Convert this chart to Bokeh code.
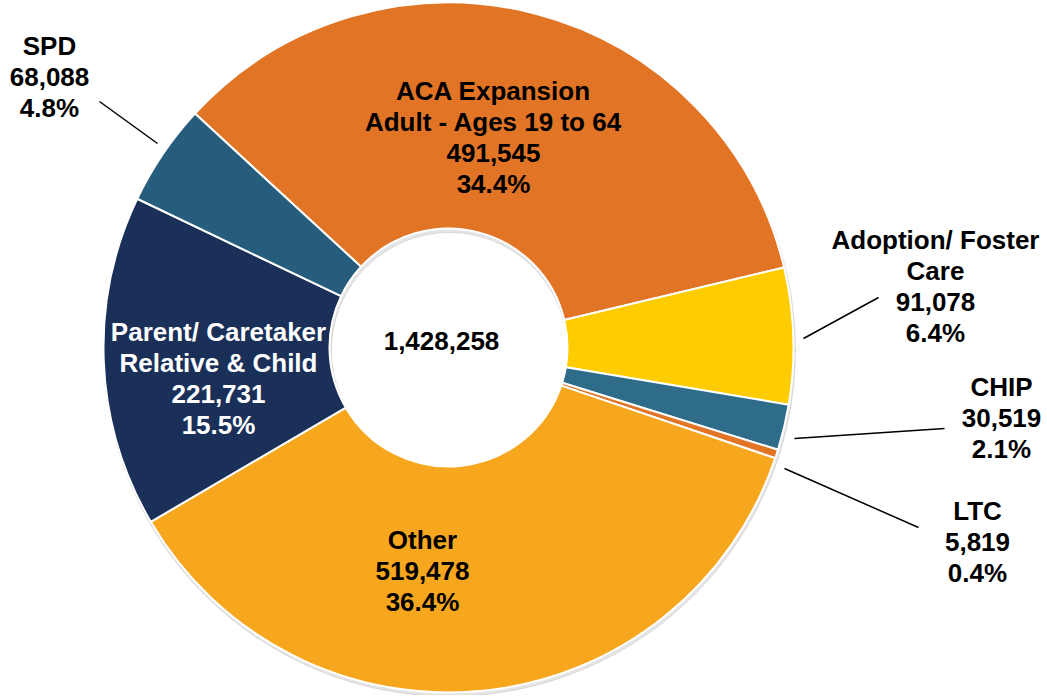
import math
from bokeh.plotting import figure
from bokeh.models import Range1d, ColumnDataSource
from bokeh.embed import file_html
from bokeh.resources import INLINE
from bokeh.core.properties import value

# ---------------- data ----------------
categories = [
    "ACA Expansion\nAdult - Ages 19 to 64",
    "Adoption/ Foster\nCare",
    "CHIP",
    "LTC",
    "Other",
    "Parent/ Caretaker\nRelative & Child",
    "SPD",
]
counts = [491545, 91078, 30519, 5819, 519478, 221731, 68088]
colors = ["#E27426", "#FFCC00", "#2E6C8A", "#E27426", "#F7A71E", "#1A3059", "#265C7C"]
label_colors = ["#000000", "#000000", "#000000", "#000000", "#000000", "#FFFFFF", "#000000"]
total = sum(counts)

# ---------------- layout (pixel coords of the page) ----------------
W, H = 1045, 695
PAGE_H = 697
cx, cy = 448, PAGE_H - 347
r_out, r_in = 345, 119
start_deg = 137.3

# label block centres (page pixels)
label_pos = [(493, 137), (935, 286), (1001, 417), (977, 541), (422, 570), (218, 378), (49, 76)]
# leader lines (outer end, inner end) for outside labels, page pixels
leaders = [None, ((878, 297), (803, 338)), ((944, 428), (794, 438)),
           ((918, 527), (784, 468)), None, None, ((99, 101), (157, 143))]

FONT = "Liberation Sans"
FS = 26
LINE_H = 31

p = figure(width=W, height=H, output_backend="svg", toolbar_location=None,
           x_range=Range1d(0, W), y_range=Range1d(PAGE_H - H, PAGE_H),
           min_border=0, outline_line_color=None, background_fill_color="white",
           border_fill_color="white")
p.axis.visible = False
p.grid.visible = False

# shadow
p.annular_wedge(x=cx + 1, y=cy - 3, inner_radius=r_in - 1, outer_radius=r_out + 1,
                start_angle=0, end_angle=2 * math.pi, color="#000000", alpha=0.10)

# wedges
starts, ends = [], []
a = math.radians(start_deg)
for c in counts:
    span = c / total * 2 * math.pi
    ends.append(a)
    starts.append(a - span)
    a -= span
src = ColumnDataSource(dict(start=starts, end=ends, color=colors))
p.annular_wedge(x=cx, y=cy, inner_radius=r_in, outer_radius=r_out,
                start_angle="start", end_angle="end", direction="anticlock",
                fill_color="color", line_color="white", line_width=2, source=src)

# leader lines
for ld in leaders:
    if ld is None:
        continue
    (x0, y0), (x1, y1) = ld
    p.line([x0, x1], [PAGE_H - y0, PAGE_H - y1], line_color="black", line_width=1.5)

# labels
for cat, n, (lx, ly), tc in zip(categories, counts, label_pos, label_colors):
    lines = cat.split("\n") + [f"{n:,}", f"{n / total * 100:.1f}%"]
    k = len(lines)
    for i, t in enumerate(lines):
        yy = ly + (i - (k - 1) / 2) * LINE_H
        p.text(x=[lx], y=[PAGE_H - yy], text=[t], text_align="center",
               text_baseline="middle", text_font=value(FONT), text_font_style="bold",
               text_font_size=f"{FS}px", text_color=tc)

# centre total
p.text(x=[441], y=[PAGE_H - 340], text=[f"{total:,}"], text_align="center",
       text_baseline="middle", text_font=value(FONT), text_font_style="bold",
       text_font_size=f"{FS}px", text_color="black")

open("out.html", "w").write(file_html(p, INLINE))
